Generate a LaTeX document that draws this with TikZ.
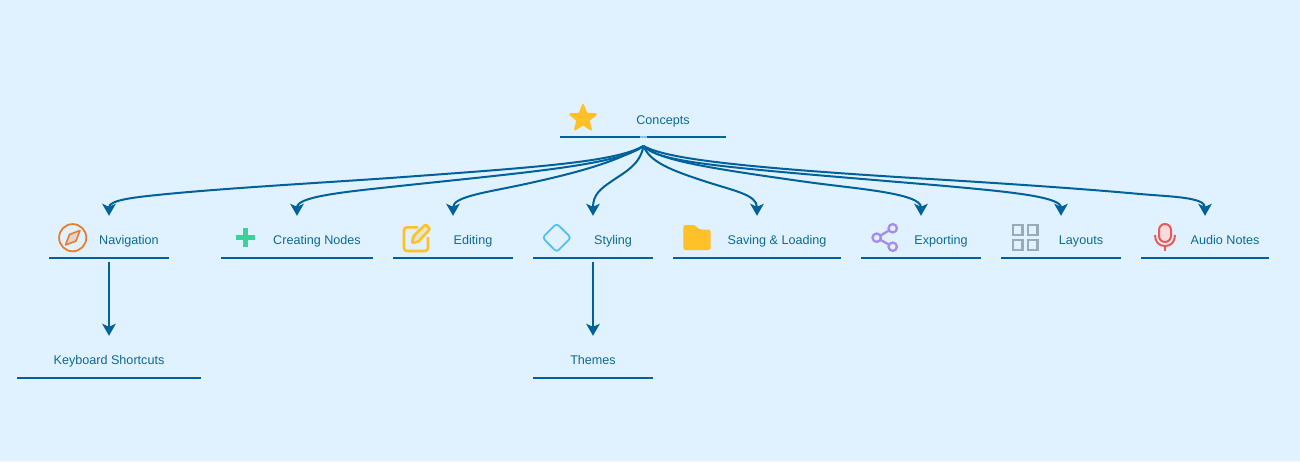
\documentclass[tikz,border=0pt]{standalone}
\usepackage{fontspec}
\setmainfont{Liberation Sans}
\usetikzlibrary{arrows.meta,shapes.geometric}
\definecolor{bgblue}{HTML}{E0F1FF}
\definecolor{linkblue}{HTML}{00629A}
\definecolor{textblue}{HTML}{0F6A96}
\definecolor{iconyellow}{HTML}{FFC028}
\definecolor{iconorange}{HTML}{E67E33}
\definecolor{icongreen}{HTML}{38D29B}
\definecolor{iconsky}{HTML}{55C1F0}
\definecolor{iconpurple}{HTML}{A68CEB}
\definecolor{icongray}{HTML}{9AAAB8}
\definecolor{iconred}{HTML}{E85A5C}
\tikzset{
    topicbox/.style={minimum height=41.5pt, inner sep=0pt},
    topictext/.style={text=textblue, font=\fontsize{12.6pt}{15pt}\selectfont, inner sep=0pt, anchor=base},
    underline/.style={linkblue, line width=2pt},
    link/.style={linkblue, line width=2pt, -{Stealth[inset=3pt, length=12pt, width=13.5pt]}},
}
\begin{document}
\begin{tikzpicture}[x=1pt, y=-1pt, line join=round]
    \fill[bgblue] (0,0) rectangle (1300,461);
    \useasboundingbox (0,0) rectangle (1300,461);

    % Root
    \node[topicbox, minimum width=166pt] (concepts) at (643,116.25) {};
    \node[topictext] (conceptstext) at (663,124) {Concepts};
    \draw[underline] (concepts.south west) -- ++(80,0);
    \draw[underline] (concepts.south east) -- ++(-79,0);
    \draw[underline, linkblue!35!bgblue] (concepts.south) ++(-3,0) -- ++(7,0);
    \coordinate (hub) at (643.5,146);

    % Topics
    \foreach \n/\x/\y/\w/\tx/\lab in {
        nav/109/236.75/120/129/Navigation,
        creating/297/236.75/152/317/Creating Nodes,
        editing/453/236.75/120/473/Editing,
        styling/593/236.75/120/613/Styling,
        saving/757/236.75/168/777/Saving \& Loading,
        exporting/921/236.75/120/941/Exporting,
        layouts/1061/236.75/120/1081/Layouts,
        audio/1205/236.75/128/1225/Audio Notes,
        keyboard/109/356.75/184/109/Keyboard Shortcuts,
        themes/593/356.75/120/593/Themes} {
        \node[topicbox, minimum width=\w pt] (\n) at (\x,\y) {};
        \node[topictext] (\n text) at (\tx,\y+7.75) {\lab};
        \draw[underline] (\n.south west) -- (\n.south east);
    }

    % Links from the root
    \draw[link] (hub) .. controls (615,162) and (540,167) .. (390,178) .. controls (310,183.5) and (220,188.5) .. (157,195) .. controls (135,197.3) and (109,200) .. (nav.north);
    \draw[link] (hub) .. controls (618,165) and (530,172) .. (390,187) .. controls (340,192.4) and (297,197) .. (creating.north);
    \draw[link] (hub) .. controls (615,162) and (580,172) .. (530,183) .. controls (490,192) and (453,196) .. (editing.north);
    \draw[link] (hub) .. controls (640,165) and (625,172) .. (612,181) .. controls (600,189) and (593,195) .. (styling.north);
    \draw[link] (hub) .. controls (650,162) and (670,170) .. (707,182) .. controls (735,191) and (757,195) .. (saving.north);
    \draw[link] (hub) .. controls (660,160) and (700,167) .. (807,182) .. controls (855,188.7) and (921,193) .. (exporting.north);
    \draw[link] (hub) .. controls (660,163) and (720,167) .. (940,185.5) .. controls (1000,191) and (1061,196) .. (layouts.north);
    \draw[link] (hub) .. controls (665,158) and (730,167) .. (930,179) .. controls (1000,183.2) and (1080,188.5) .. (1140,194) .. controls (1170,196.7) and (1205,197) .. (audio.north);

    % Links down
    \draw[link, shorten <=4pt] (nav.south) -- (keyboard.north);
    \draw[link, shorten <=4pt] (styling.south) -- (themes.north);

    % Star
    \node[star, star points=5, star point ratio=2.3, fill=iconyellow, draw=iconyellow, line width=1.5pt, rounded corners=0.7pt, inner sep=0pt, minimum size=28.5pt] (staricon) at (583,118.5) {};

    % Compass
    \draw[iconorange, line width=1.8pt] (72.7,237.7) circle (13.6);
    \draw[iconorange, line width=1.6pt, fill=iconorange!25!bgblue] (80,230.5) -- (76,241) -- (65.5,245) -- (69.5,234.5) -- cycle;

    % Plus
    \draw[icongreen, line width=5pt] (235.7,237.2) -- (255,237.2);
    \draw[icongreen, line width=5pt] (245.3,227.6) -- (245.3,246.8);

    % Pencil
    \draw[iconyellow, line width=2.6pt, rounded corners=3pt] (418,227.3) -- (404,227.3) -- (404,251) -- (428,251) -- (428,237);
    \draw[iconyellow, line width=2.6pt, rounded corners=1pt, fill=iconyellow!25!bgblue] (412,243) -- (413.5,236) -- (425.5,224.5) -- (430,229) -- (418.5,241.5) -- cycle;

    % Diamond
    \draw[iconsky, line width=1.8pt, rounded corners=3pt] (556.7,223.5) -- (571,237.7) -- (556.7,252) -- (542.5,237.7) -- cycle;

    % Folder
    \fill[iconyellow, rounded corners=2.5pt] (683.3,225) -- (695,225) -- (699,229.5) -- (710.7,229.5) -- (710.7,250) -- (683.3,250) -- cycle;

    % Share
    \draw[iconpurple, line width=2.3pt] (892.7,228.3) -- (876.7,237.7) -- (892.7,246.7);
    \foreach \x/\y in {892.7/228.3, 876.7/237.7, 892.7/246.7} {
        \draw[iconpurple, line width=2.3pt, fill=bgblue] (\x,\y) circle (4.2);
    }

    % Grid
    \foreach \x/\y in {1012.8/225.1, 1027.8/225.1, 1012.8/240.1, 1027.8/240.1} {
        \draw[icongray, line width=2.2pt, line join=miter] (\x,\y) rectangle (\x+9.6,\y+9.6);
    }

    % Microphone
    \draw[iconred, line width=2pt, fill=iconred!22!white, rounded corners=6pt] (1159,242) -- (1159,224) -- (1171,224) -- (1171,242) -- cycle;
    \draw[iconred, line width=2pt] (1155,235) .. controls (1155,242) and (1159,246) .. (1165,246) .. controls (1171,246) and (1175,242) .. (1175,235);
    \draw[iconred, line width=2pt] (1165,246) -- (1165,250.5);
\end{tikzpicture}
\end{document}
